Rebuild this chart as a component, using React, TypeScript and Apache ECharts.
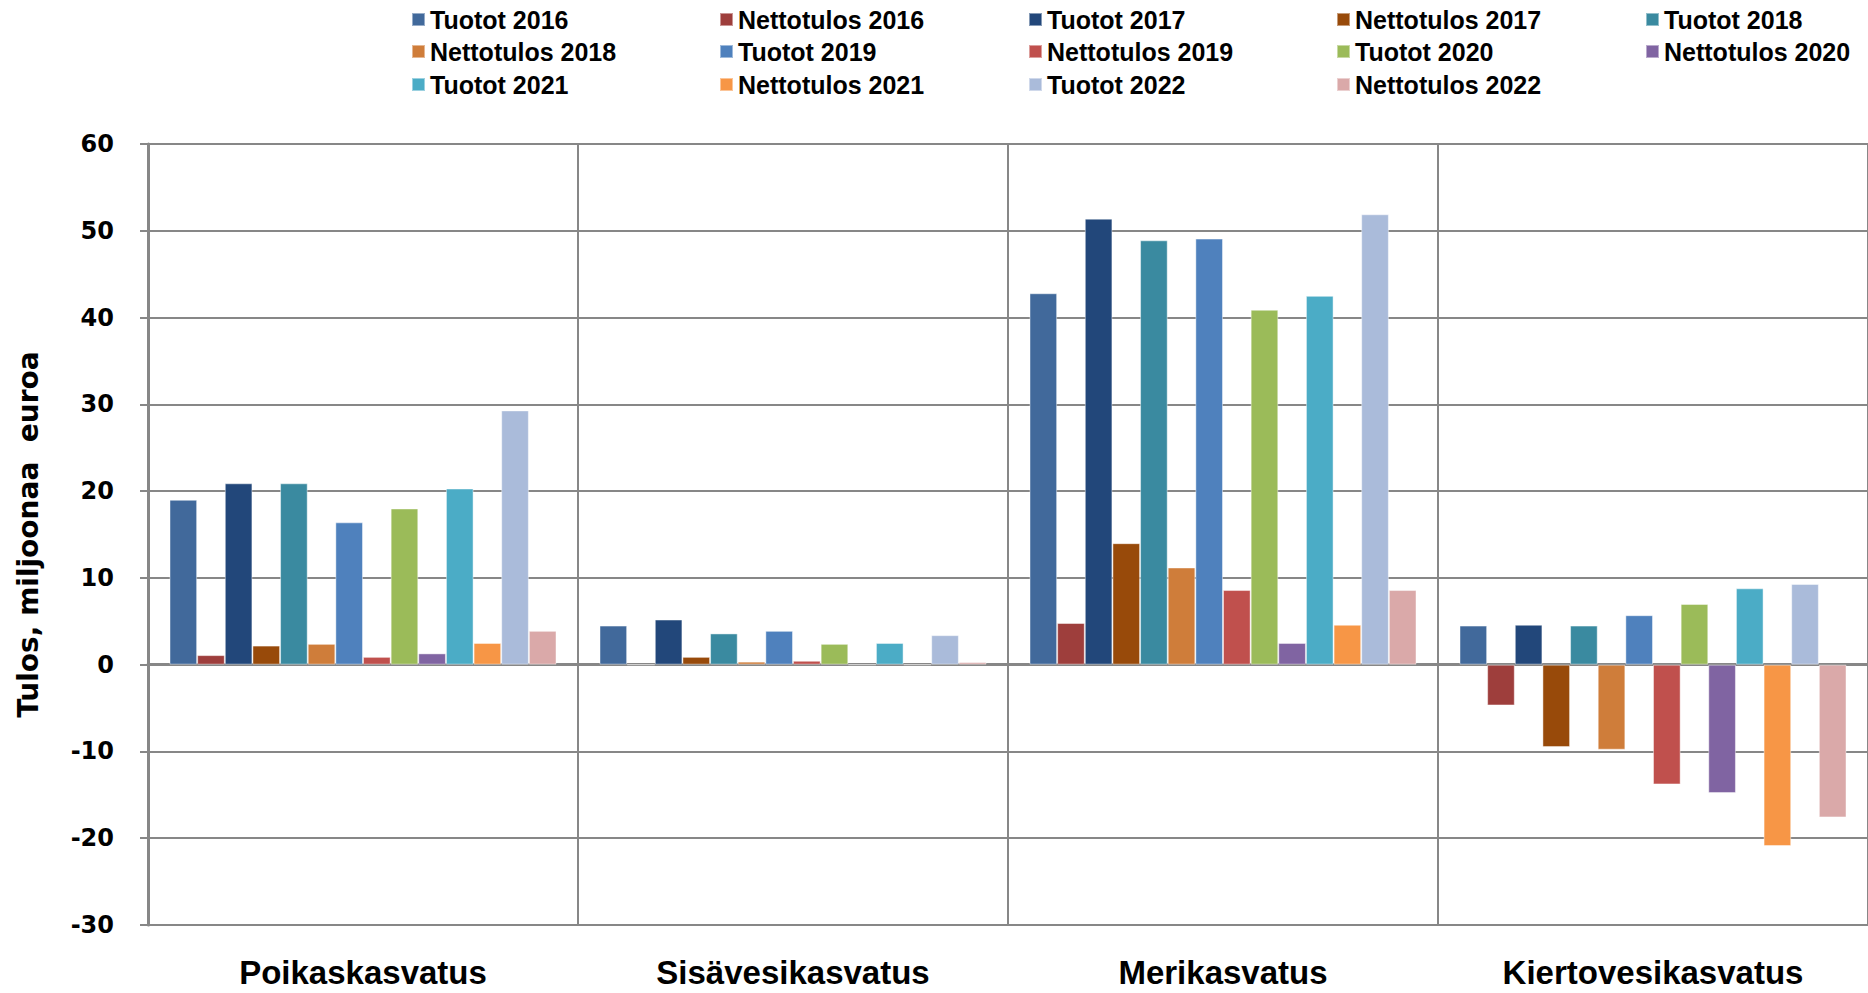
import React, { useEffect, useRef } from "react";
import * as echarts from "echarts";

const categories = ["Poikaskasvatus", "Sisävesikasvatus", "Merikasvatus", "Kiertovesikasvatus"];

const seriesNames = [
  "Tuotot 2016", "Nettotulos 2016", "Tuotot 2017", "Nettotulos 2017", "Tuotot 2018",
  "Nettotulos 2018", "Tuotot 2019", "Nettotulos 2019", "Tuotot 2020", "Nettotulos 2020",
  "Tuotot 2021", "Nettotulos 2021", "Tuotot 2022", "Nettotulos 2022",
];

const tuotot2016 = [19.0, 4.5, 42.8, 4.5];
const nettotulos2016 = [1.1, 0, 4.8, -4.7];
const tuotot2017 = [20.9, 5.2, 51.4, 4.6];
const nettotulos2017 = [2.2, 0.9, 14.0, -9.5];
const tuotot2018 = [20.9, 3.6, 48.9, 4.5];
const nettotulos2018 = [2.4, 0.35, 11.2, -9.8];
const tuotot2019 = [16.4, 3.9, 49.1, 5.7];
const nettotulos2019 = [0.9, 0.45, 8.6, -13.8];
const tuotot2020 = [18.0, 2.4, 40.9, 7.0];
const nettotulos2020 = [1.3, 0, 2.5, -14.8];
const tuotot2021 = [20.3, 2.5, 42.5, 8.8];
const nettotulos2021 = [2.5, 0, 4.6, -20.9];
const tuotot2022 = [29.3, 3.4, 51.9, 9.3];
const nettotulos2022 = [3.9, 0.3, 8.6, -17.6];

const seriesValues = [
  tuotot2016, nettotulos2016, tuotot2017, nettotulos2017, tuotot2018,
  nettotulos2018, tuotot2019, nettotulos2019, tuotot2020, nettotulos2020,
  tuotot2021, nettotulos2021, tuotot2022, nettotulos2022,
];

const colors = [
  "#41699B", "#9E3E3C", "#22477A", "#984A0A", "#3A8AA0",
  "#CF7D3A", "#4F81BD", "#C0504D", "#9BBB59", "#8064A2",
  "#4BACC6", "#F79646", "#AABBDA", "#DAA9A9",
];

const legendCols = [411, 719, 1028, 1336, 1645];
const legendRows = [20, 52, 85];

const yTicks = { min: -30, max: 60, interval: 10 };

export default function App() {
  const ref = useRef<HTMLDivElement>(null);
  useEffect(() => {
    if (!ref.current) return;
    const chart = echarts.init(ref.current, undefined, { renderer: "svg" });
    const gray = "#878787";
    const legendFont = "'Liberation Sans Narrow', 'Liberation Sans', sans-serif";
    const legends = seriesNames.map((name, i) => ({
      data: [name],
      left: legendCols[i % 5],
      top: legendRows[Math.floor(i / 5)] - 13,
      padding: 0,
      itemWidth: 13,
      itemHeight: 13,
      icon: "rect",
      selectedMode: false,
      textStyle: { fontFamily: legendFont, fontWeight: "bold", fontSize: 25, color: "#000" },
    }));
    chart.setOption({
      animation: false,
      backgroundColor: "#fff",
      legend: legends,
      grid: { left: 148, top: 144, right: 0, bottom: 68, containLabel: false },
      xAxis: [
        {
          type: "category",
          data: categories,
          position: "bottom",
          axisLine: { onZero: true, lineStyle: { color: gray, width: 3 } },
          axisTick: { show: true, length: 8, lineStyle: { color: gray, width: 2 } },
          axisLabel: { show: false },
          splitLine: { show: true, lineStyle: { color: gray, width: 2 } },
        },
        {
          type: "category",
          data: categories,
          position: "bottom",
          axisLine: { show: false, onZero: false },
          axisTick: { show: false },
          splitLine: { show: false },
          axisLabel: {
            margin: 31,
            fontFamily: legendFont,
            fontWeight: "bold",
            fontSize: 33,
            color: "#000",
          },
        },
      ],
      yAxis: {
        type: "value",
        min: yTicks.min,
        max: yTicks.max,
        interval: yTicks.interval,
        name: "Tulos, miljoonaa  euroa",
        nameLocation: "middle",
        nameGap: 106,
        nameTextStyle: { fontFamily: "'DejaVu Sans', sans-serif", fontWeight: "bold", fontSize: 28, color: "#000" },
        axisLine: { show: true, lineStyle: { color: gray, width: 3 } },
        axisTick: { show: true, length: 8, lineStyle: { color: gray, width: 2 } },
        axisLabel: {
          margin: 34,
          fontFamily: "'DejaVu Sans', sans-serif",
          fontWeight: "bold",
          fontSize: 24,
          color: "#000",
        },
        splitLine: { show: true, lineStyle: { color: gray, width: 2 } },
      },
      series: seriesNames.map((name, i) => ({
        name,
        type: "bar",
        xAxisIndex: 0,
        data: seriesValues[i],
        barGap: "0%",
        barCategoryGap: "10%",
        itemStyle: { color: colors[i], borderColor: "rgba(255,255,255,0.45)", borderWidth: 1 },
      })),
    });
    return () => chart.dispose();
  }, []);
  return <div ref={ref} style={{ position: "absolute", left: 0, top: 0, width: 1868, height: 993 }} />;
}
